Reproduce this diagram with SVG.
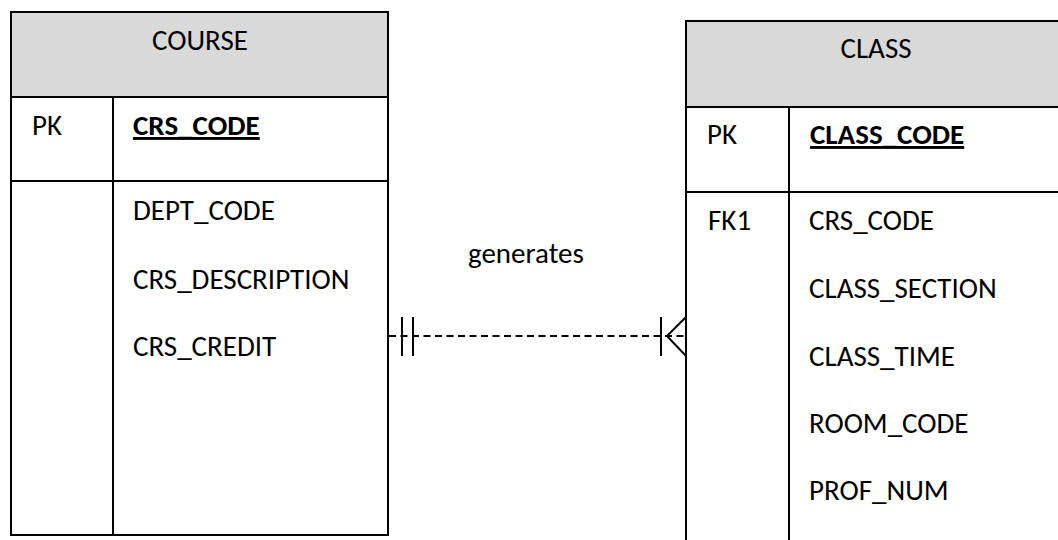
<svg xmlns="http://www.w3.org/2000/svg" width="1058" height="540" viewBox="0 0 1058 540">
  <style>
    .box { fill: #ffffff; stroke: #000000; stroke-width: 2; }
    .head { fill: #d9d9d9; stroke: #000000; stroke-width: 2; }
    .rule { stroke: #000000; stroke-width: 2; fill: none; }
    .t { font-family: Carlito, Lato, "Liberation Sans", sans-serif; font-size: 29px; fill: #000000; }
    .title { text-anchor: middle; }
    .key { font-weight: bold; text-decoration: underline; }
    .rel { stroke: #000000; stroke-width: 2; fill: none; }
    .dash { stroke-dasharray: 7 4.5; }
  </style>

  <rect x="0" y="0" width="1058" height="540" fill="#ffffff"/>

  <!-- COURSE entity -->
  <g id="course">
    <rect class="box" x="11" y="12" width="377" height="523"/>
    <rect class="head" x="11" y="12" width="377" height="85"/>
    <line class="rule" x1="11" y1="181" x2="388" y2="181"/>
    <line class="rule" x1="113" y1="97" x2="113" y2="535"/>
    <text class="t title" x="200" y="50">COURSE</text>
    <text class="t" x="32" y="135">PK</text>
    <text class="t key" x="133" y="135">CRS_CODE</text>
    <text class="t" x="133" y="220">DEPT_CODE</text>
    <text class="t" x="133" y="289">CRS_DESCRIPTION</text>
    <text class="t" x="133" y="356">CRS_CREDIT</text>
  </g>

  <!-- CLASS entity (runs past the right and bottom edges) -->
  <g id="class">
    <rect class="box" x="686" y="21" width="384" height="540"/>
    <rect class="head" x="686" y="21" width="384" height="86"/>
    <line class="rule" x1="686" y1="192" x2="1070" y2="192"/>
    <line class="rule" x1="789" y1="107" x2="789" y2="561"/>
    <text class="t title" x="876" y="58">CLASS</text>
    <text class="t" x="707" y="144">PK</text>
    <text class="t key" x="810" y="144">CLASS_CODE</text>
    <text class="t" x="708" y="230">FK1</text>
    <text class="t" x="809" y="230">CRS_CODE</text>
    <text class="t" x="809" y="298">CLASS_SECTION</text>
    <text class="t" x="809" y="366">CLASS_TIME</text>
    <text class="t" x="809" y="433">ROOM_CODE</text>
    <text class="t" x="809" y="500">PROF_NUM</text>
  </g>

  <!-- generates: one COURSE to many CLASS -->
  <g id="connectors">
    <line class="rel dash" x1="389" y1="336" x2="686" y2="336"/>
    <line class="rel" x1="402" y1="317" x2="402" y2="356"/>
    <line class="rel" x1="413" y1="317" x2="413" y2="356"/>
    <line class="rel" x1="661" y1="317" x2="661" y2="356"/>
    <polyline class="rel" points="686,317 667,336 686,356"/>
    <text class="t" x="468" y="263">generates</text>
  </g>
</svg>
